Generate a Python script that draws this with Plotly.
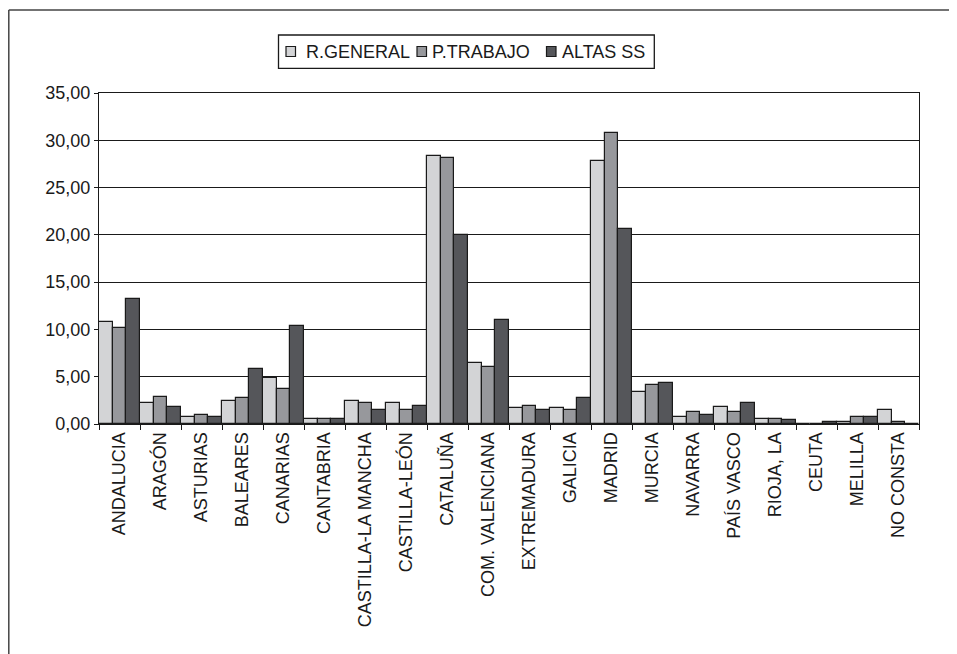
import plotly.graph_objects as go

categories = ["ANDALUCIA", "ARAGÓN", "ASTURIAS", "BALEARES", "CANARIAS", "CANTABRIA",
              "CASTILLA-LA MANCHA", "CASTILLA-LEÓN", "CATALUÑA", "COM. VALENCIANA",
              "EXTREMADURA", "GALICIA", "MADRID", "MURCIA", "NAVARRA", "PAÍS VASCO",
              "RIOJA, LA", "CEUTA", "MELILLA", "NO CONSTA"]
r_general = [10.8, 2.2, 0.75, 2.45, 4.85, 0.5, 2.45, 2.2, 28.35, 6.5,
             1.7, 1.7, 27.85, 3.4, 0.75, 1.75, 0.5, 0.0, 0.2, 1.45]
p_trabajo = [10.1, 2.9, 1.0, 2.7, 3.65, 0.5, 2.2, 1.5, 28.1, 6.0,
             1.95, 1.5, 30.75, 4.1, 1.25, 1.25, 0.5, 0.0, 0.75, 0.25]
altas_ss = [13.25, 1.75, 0.75, 5.8, 10.35, 0.5, 1.5, 1.95, 19.95, 11.05,
            1.5, 2.7, 20.65, 4.35, 1.0, 2.2, 0.45, 0.25, 0.75, 0.0]
series_names = ["R.GENERAL", "P.TRABAJO", "ALTAS SS"]
series_colors = ["#d3d4d6", "#97989c", "#55565a"]
y_ticks = [0, 5, 10, 15, 20, 25, 30, 35]

W, H = 957, 654
OFF = 8  # page body margin
L, R, T, B = 91, 46, 85, 238
pw, ph = W - L - R, H - T - B

def px_x(x):  # x in screenshot pixels -> paper
    return (x - OFF - L) / pw

def px_y(y):
    return (H - B - (y - OFF)) / ph

ink = "#1a1a1a"
font_family = "Liberation Sans, Arial, sans-serif"

fig = go.Figure()
for name, vals, col in zip(series_names, [r_general, p_trabajo, altas_ss], series_colors):
    fig.add_trace(go.Bar(x=categories, y=vals, name=name,
                         marker=dict(color=col, line=dict(color=ink, width=1.2))))

fig.update_layout(
    width=W, height=H,
    margin=dict(l=L, r=R, t=T, b=B, autoexpand=False),
    paper_bgcolor="white", plot_bgcolor="white",
    barmode="group", bargap=0, bargroupgap=0,
    separators=",.",
    font=dict(family=font_family, size=18, color=ink),
    showlegend=False,
)
fig.update_xaxes(type="category", tickangle=-90, ticks="outside", ticklen=5, tickwidth=1.2,
                 tickcolor=ink, tickson="boundaries", showline=True, linecolor=ink,
                 linewidth=1.2, mirror=True, showgrid=False,
                 tickfont=dict(size=18, family=font_family, color=ink))
fig.update_yaxes(range=[0, 35], tickvals=y_ticks, tickformat=".2f", ticks="outside", ticklen=4,
                 tickwidth=1.2, tickcolor=ink, showline=True, linecolor=ink,
                 linewidth=1.2, mirror=True, showgrid=True, gridcolor=ink, gridwidth=1.3,
                 zeroline=False,
                 tickfont=dict(size=18, family=font_family, color=ink))

# outer frame (top and left visible, extends past right/bottom edges)
fig.add_shape(type="line", xref="paper", yref="paper", x0=px_x(OFF + 0.8), x1=px_x(W + 20),
              y0=px_y(10), y1=px_y(10), line=dict(color="#444444", width=1.5))
fig.add_shape(type="line", xref="paper", yref="paper", x0=px_x(OFF + 0.8), x1=px_x(OFF + 0.8),
              y0=px_y(10), y1=px_y(H + 20), line=dict(color="#444444", width=1.5))

# legend box drawn manually to match the reference layout
fig.add_shape(type="rect", xref="paper", yref="paper", x0=px_x(278.5), x1=px_x(654.3),
              y0=px_y(35), y1=px_y(68.3), line=dict(color=ink, width=1.3), fillcolor="white")
sq_x = [286, 417, 546.5]
txt_x = [304, 429.5, 559.5]
for name, col, sx, tx in zip(series_names, series_colors, sq_x, txt_x):
    fig.add_shape(type="rect", xref="paper", yref="paper", x0=px_x(sx), x1=px_x(sx + 9.5),
                  y0=px_y(46.5), y1=px_y(56.5), line=dict(color=ink, width=1.2), fillcolor=col)
    fig.add_annotation(text=name, xref="paper", yref="paper", x=px_x(tx), y=px_y(51.8),
                       xanchor="left", yanchor="middle", showarrow=False,
                       font=dict(size=18, family=font_family, color=ink))

fig.write_html("out.html")
